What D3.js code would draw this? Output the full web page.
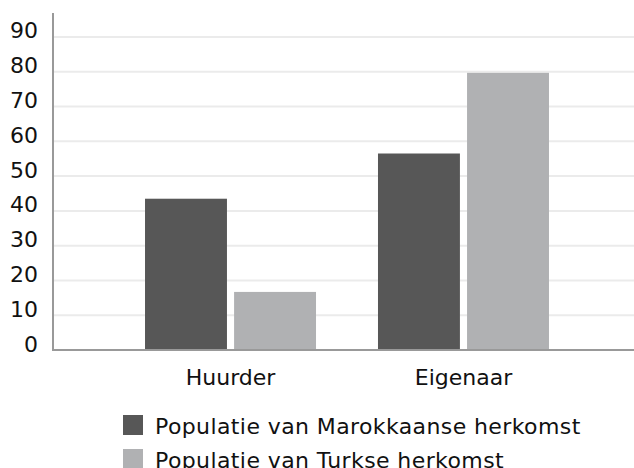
<!DOCTYPE html>
<html>
  <head>
    <meta charset="utf-8">
    <title>Huurder / Eigenaar</title>
    <script src="https://d3js.org/d3.v7.min.js"></script>
    <style>
      body { margin: 0; background: #fff; }
      text { font-family: Verdana, "DejaVu Sans", sans-serif; fill: #111; }
    </style>
  </head>
  <body>
    <script>
      var categories = ["Huurder", "Eigenaar"];
      var series = ["Populatie van Marokkaanse herkomst", "Populatie van Turkse herkomst"];
      var marokkaans = [43.5, 56.5];
      var turks = [16.7, 79.7];
      var yTicks = [0, 10, 20, 30, 40, 50, 60, 70, 80, 90];
      var colors = ["#575757", "#b0b1b3"];

      var width = 634, height = 468;
      var mLeft = 53, mTop = 13, mBottom = 350, mRight = 641;
      var fontSize = "22px";

      var svg = d3.select("body").append("svg")
        .attr("width", width)
        .attr("height", height);

      var y = d3.scaleLinear().domain([0, 96.9]).range([mBottom, mTop]);
      var x0 = d3.scaleBand().domain(categories).range([mLeft, mRight])
        .paddingInner(0.266).paddingOuter(0.395);
      var x1 = d3.scaleBand().domain(series).range([0, x0.bandwidth()]).paddingInner(0.08);

      // gridlines
      svg.append("g").selectAll("line")
        .data(yTicks.slice(1))
        .enter().append("line")
        .attr("x1", mLeft).attr("x2", width)
        .attr("y1", function(d) { return y(d); })
        .attr("y2", function(d) { return y(d); })
        .attr("stroke", "#ebebeb")
        .attr("stroke-width", 2);

      // bars
      var rows = categories.map(function(c, i) {
        return { cat: c, vals: [marokkaans[i], turks[i]] };
      });
      svg.append("g").selectAll("g")
        .data(rows)
        .enter().append("g")
        .attr("transform", function(d) { return "translate(" + x0(d.cat) + ",0)"; })
        .selectAll("rect")
        .data(function(d) { return d.vals.map(function(v, j) { return { s: series[j], v: v, j: j }; }); })
        .enter().append("rect")
        .attr("x", function(d) { return x1(d.s); })
        .attr("y", function(d) { return y(d.v); })
        .attr("width", x1.bandwidth())
        .attr("height", function(d) { return mBottom - y(d.v); })
        .attr("fill", function(d) { return colors[d.j]; });

      // y axis
      var yAxis = svg.append("g")
        .attr("transform", "translate(" + mLeft + ",0)")
        .call(d3.axisLeft(y).tickValues(yTicks).tickSize(0).tickPadding(15));
      yAxis.select(".domain").remove();
      yAxis.selectAll("text")
        .attr("dy", "0em")
        .attr("y", 1)
        .style("font-size", fontSize);
      svg.append("line")
        .attr("x1", mLeft).attr("x2", mLeft)
        .attr("y1", mTop).attr("y2", mBottom)
        .attr("stroke", "#999").attr("stroke-width", 2);

      // x axis
      var xAxis = svg.append("g")
        .attr("transform", "translate(0," + mBottom + ")")
        .call(d3.axisBottom(x0).tickSize(0).tickPadding(19));
      xAxis.select(".domain").remove();
      xAxis.selectAll("text").style("font-size", fontSize);
      svg.append("line")
        .attr("x1", mLeft - 1).attr("x2", width)
        .attr("y1", mBottom).attr("y2", mBottom)
        .attr("stroke", "#999").attr("stroke-width", 2);

      // legend
      var legend = svg.append("g").attr("transform", "translate(123,415)");
      var items = legend.selectAll("g")
        .data(series)
        .enter().append("g")
        .attr("transform", function(d, i) { return "translate(0," + i * 34 + ")"; });
      items.append("rect")
        .attr("width", 20).attr("height", 20)
        .attr("fill", function(d, i) { return colors[i]; });
      items.append("text")
        .attr("x", 32).attr("y", 19)
        .style("font-size", fontSize)
        .style("letter-spacing", "0.4px")
        .text(function(d) { return d; });
    </script>
  </body>
</html>
